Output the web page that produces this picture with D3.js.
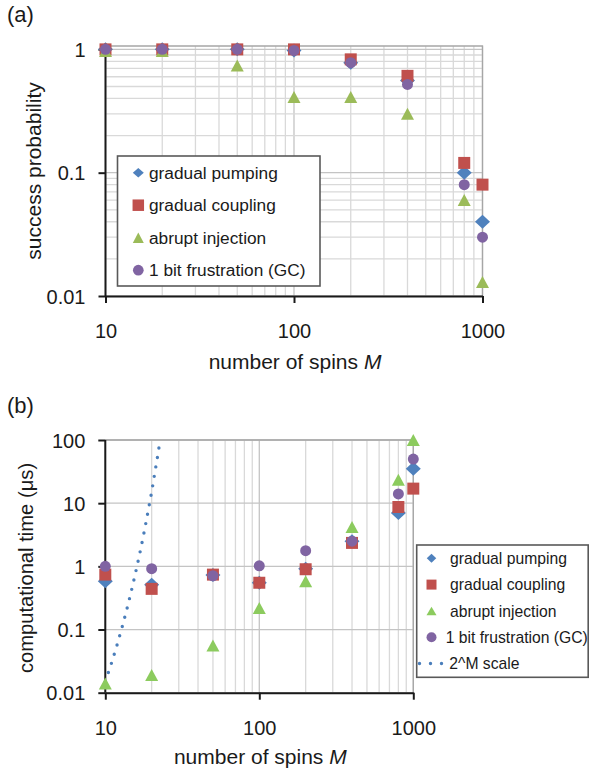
<!DOCTYPE html>
<html>
<head>
<meta charset="utf-8">
<script src="https://cdn.jsdelivr.net/npm/d3@7"></script>
<style>
  body { margin: 0; background: #fff; }
  svg { display: block; font-family: "Liberation Sans", Arial, sans-serif; }
</style>
</head>
<body>
<svg id="chart" width="589" height="775"></svg>
<script>
// values
var spins = [10, 20, 50, 100, 200, 400, 800, 1000];
var seriesNames = ["gradual pumping", "gradual coupling", "abrupt injection", "1 bit frustration (GC)"];

// (a) success probability
var probPumping = [1, 1, 1, 0.98, 0.78, 0.56, 0.1, 0.04];
var probCoupling = [1, 1, 1, 1, 0.83, 0.61, 0.12, 0.08];
var probInjection = [0.97, 0.97, 0.74, 0.41, 0.41, 0.3, 0.06, 0.013];
var probFrustration = [1, 1, 1, 0.98, 0.78, 0.52, 0.08, 0.03];

// (b) computational time (us)
var timePumping = [0.58, 0.51, 0.73, 0.55, 0.92, 2.5, 7.0, 35];
var timeCoupling = [0.74, 0.44, 0.74, 0.55, 0.9, 2.35, 8.7, 17];
var timeInjection = [0.014, 0.019, 0.056, 0.22, 0.58, 4.2, 23.5, 100];
var timeFrustration = [1.0, 0.92, 0.71, 1.02, 1.77, 2.5, 14, 50];

// 2^M reference curve
var scaleName = "2^M scale";
var scaleM = [10, 11, 12, 13, 14, 15, 16, 17, 18, 19, 20, 21, 22, 22.7];
var scaleTime = [0.015, 0.03, 0.06, 0.12, 0.24, 0.48, 0.96, 1.9, 3.8, 7.7, 15, 31, 61, 100];

// tick labels
var spinTicks = [10, 100, 1000];
var spinLabels = ["10", "100", "1000"];
var probTicks = [0.01, 0.1, 1];
var probLabels = ["0.01", "0.1", "1"];
var timeTicks = [0.01, 0.1, 1, 10, 100];
var timeLabels = ["0.01", "0.1", "1", "10", "100"];

var shapes = ["diamond", "square", "triangle", "circle"];
var plotSize = {diamond: [15, 14], square: [12, 12], triangle: [13, 12], circle: [11, 11]};

function shapePath(type, w, h) {
  if (type == "diamond") return "M0," + (-h / 2) + "L" + (w / 2) + ",0L0," + (h / 2) + "L" + (-w / 2) + ",0Z";
  if (type == "square") return "M" + (-w / 2) + "," + (-h / 2) + "h" + w + "v" + h + "h" + (-w) + "Z";
  if (type == "triangle") return "M0," + (-h / 2) + "L" + (w / 2) + "," + (h / 2) + "L" + (-w / 2) + "," + (h / 2) + "Z";
  var r = w / 2;
  return "M" + (-r) + ",0a" + r + "," + r + " 0 1,0 " + w + ",0a" + r + "," + r + " 0 1,0 " + (-w) + ",0Z";
}

var svg = d3.select("#chart");

function drawPanel(p) {
  var g = svg.append("g");
  var x = d3.scaleLog().domain([10, 1000]).range([p.left, p.right]);
  var y = d3.scaleLog().domain(p.yDomain).range([p.bottom, p.yTopPx]);

  var isMajor = function (v) { return Math.abs(Math.log10(v) - Math.round(Math.log10(v))) < 1e-6; };

  // grid
  var grid = g.append("g");
  grid.selectAll("line.vx")
    .data(x.ticks())
    .enter().append("line")
    .attr("x1", d => x(d)).attr("x2", d => x(d))
    .attr("y1", p.top).attr("y2", p.bottom)
    .attr("stroke", d => isMajor(d) ? "#c4c4c4" : "#d9d9d9")
    .attr("stroke-width", 1.3);
  var hy = p.minorY ? y.ticks() : p.yTicks;
  grid.selectAll("line.hy")
    .data(hy)
    .enter().append("line")
    .attr("x1", p.left).attr("x2", p.right)
    .attr("y1", d => y(d)).attr("y2", d => y(d))
    .attr("stroke", d => isMajor(d) ? "#c4c4c4" : "#d9d9d9")
    .attr("stroke-width", 1.3);

  // top and right border
  g.append("path")
    .attr("d", "M" + p.left + "," + p.top + "H" + p.right + "V" + p.bottom)
    .attr("fill", "none").attr("stroke", "#a6a6a6").attr("stroke-width", 1.3);

  // axes
  var xAxis = g.append("g")
    .attr("transform", "translate(0," + p.bottom + ")")
    .call(d3.axisBottom(x).tickValues(spinTicks).tickFormat((d, i) => spinLabels[i])
      .tickSize(7).tickSizeOuter(0).tickPadding(21));
  var yAxis = g.append("g")
    .attr("transform", "translate(" + p.left + ",0)")
    .call(d3.axisLeft(y).tickValues(p.yTicks).tickFormat((d, i) => p.yLabels[i])
      .tickSize(7).tickSizeOuter(0).tickPadding(13));
  [xAxis, yAxis].forEach(function (a) {
    a.select(".domain").attr("stroke", "#1a1a1a").attr("stroke-width", 2);
    a.selectAll(".tick line").attr("stroke", "#1a1a1a").attr("stroke-width", 2);
    a.selectAll("text").attr("fill", "#1a1a1a").style("font-size", "20px")
      .style("font-family", "'Liberation Sans', Arial, sans-serif");
  });
  yAxis.selectAll("text").attr("dy", "0.36em");
  yAxis.select(".domain").attr("d", "M0," + y(p.yDomain[1]) + "V" + p.bottom);

  // 2^M line
  if (p.line) {
    g.append("path")
      .datum(p.line.m.map((m, i) => [m, p.line.t[i]]))
      .attr("d", d3.line().x(d => x(d[0])).y(d => y(d[1])))
      .attr("fill", "none")
      .attr("stroke", "#4a7ebb")
      .attr("stroke-width", 3.4)
      .attr("stroke-linecap", "round")
      .attr("stroke-dasharray", "0 9.6");
  }

  // markers
  p.series.forEach(function (vals, k) {
    var sz = plotSize[shapes[k]];
    g.append("g").selectAll("path")
      .data(vals.map((v, i) => [spins[i], v]))
      .enter().append("path")
      .attr("transform", d => "translate(" + x(d[0]) + "," + y(d[1]) + ")")
      .attr("d", shapePath(shapes[k], sz[0], sz[1]))
      .attr("fill", p.colors[k]);
  });

  // legend
  var L = p.legend;
  var lg = g.append("g");
  lg.append("rect")
    .attr("x", L.x).attr("y", L.y).attr("width", L.w).attr("height", L.h)
    .attr("fill", "#fff").attr("stroke", "#595959").attr("stroke-width", 1.6);
  seriesNames.forEach(function (name, k) {
    var cy = L.y + L.first + k * L.step;
    var sz = L.sizes[shapes[k]];
    lg.append("path")
      .attr("transform", "translate(" + L.mx + "," + cy + ")")
      .attr("d", shapePath(shapes[k], sz[0], sz[1]))
      .attr("fill", p.colors[k]);
    lg.append("text")
      .attr("x", L.tx[k]).attr("y", cy + L.font * 0.36)
      .style("font-size", L.font + "px").attr("fill", "#1a1a1a")
      .text(name);
  });
  if (p.line) {
    var cy = L.y + L.first + 4 * L.step;
    lg.append("line")
      .attr("x1", L.mx - 12).attr("x2", L.mx + 10.5)
      .attr("y1", cy).attr("y2", cy)
      .attr("stroke", "#4a7ebb").attr("stroke-width", 3.4)
      .attr("stroke-linecap", "round").attr("stroke-dasharray", "0 11");
    lg.append("text")
      .attr("x", L.tx[4]).attr("y", cy + L.font * 0.36)
      .style("font-size", L.font + "px").attr("fill", "#1a1a1a")
      .text(scaleName);
  }

  // titles
  g.append("text")
    .attr("x", 7).attr("y", p.tagY)
    .style("font-size", "22px").attr("fill", "#1a1a1a")
    .text(p.tag);
  var xt = g.append("text")
    .attr("x", (p.left + p.right) / 2 + 1).attr("y", p.xTitleY)
    .attr("text-anchor", "middle")
    .style("font-size", "21px").attr("fill", "#1a1a1a");
  xt.append("tspan").text("number of spins ");
  xt.append("tspan").style("font-style", "italic").text("M");
  g.append("text")
    .attr("transform", "translate(" + p.yTitleX + "," + p.yTitleMid + ") rotate(-90)")
    .attr("text-anchor", "middle")
    .style("font-size", p.yTitleFont + "px").attr("fill", "#1a1a1a")
    .text(p.yTitle);
}

drawPanel({
  tag: "(a)", tagY: 22,
  left: 105.5, right: 482.5, top: 46, bottom: 296, yTopPx: 46,
  yDomain: [0.01, 1.065], minorY: true,
  yTicks: probTicks, yLabels: probLabels,
  series: [probPumping, probCoupling, probInjection, probFrustration],
  colors: ["#4F81BD", "#C0504D", "#9BBB59", "#8064A2"],
  xTitleY: 368.5,
  yTitle: "success probability", yTitleX: 41, yTitleMid: 171, yTitleFont: 21,
  legend: {
    x: 117.5, y: 156, w: 202.5, h: 130, first: 16.7, step: 32.5, font: 17.3,
    mx: 138.3, tx: [149, 149, 149, 149],
    sizes: {diamond: [11, 9.5], square: [11.5, 11.5], triangle: [11, 10.5], circle: [10.7, 10.7]}
  }
});

drawPanel({
  tag: "(b)", tagY: 413,
  left: 105.3, right: 413.3, top: 440, bottom: 692.7, yTopPx: 440,
  yDomain: [0.01, 100], minorY: false,
  yTicks: timeTicks, yLabels: timeLabels,
  series: [timePumping, timeCoupling, timeInjection, timeFrustration],
  colors: ["#4F81BD", "#C0504D", "#8CCB5E", "#8064A2"],
  line: {m: scaleM, t: scaleTime},
  xTitleY: 763.5,
  yTitle: "computational time (\u03bcs)", yTitleX: 33, yTitleMid: 568, yTitleFont: 20.2,
  legend: {
    x: 416.7, y: 545, w: 171.5, h: 132.3, first: 13.3, step: 26.3, font: 15.7,
    mx: 431.5, tx: [450, 450, 450, 445.7, 449.3],
    sizes: {diamond: [9.5, 9], square: [10, 10], triangle: [10, 8.5], circle: [10, 10]}
  }
});
</script>
</body>
</html>
